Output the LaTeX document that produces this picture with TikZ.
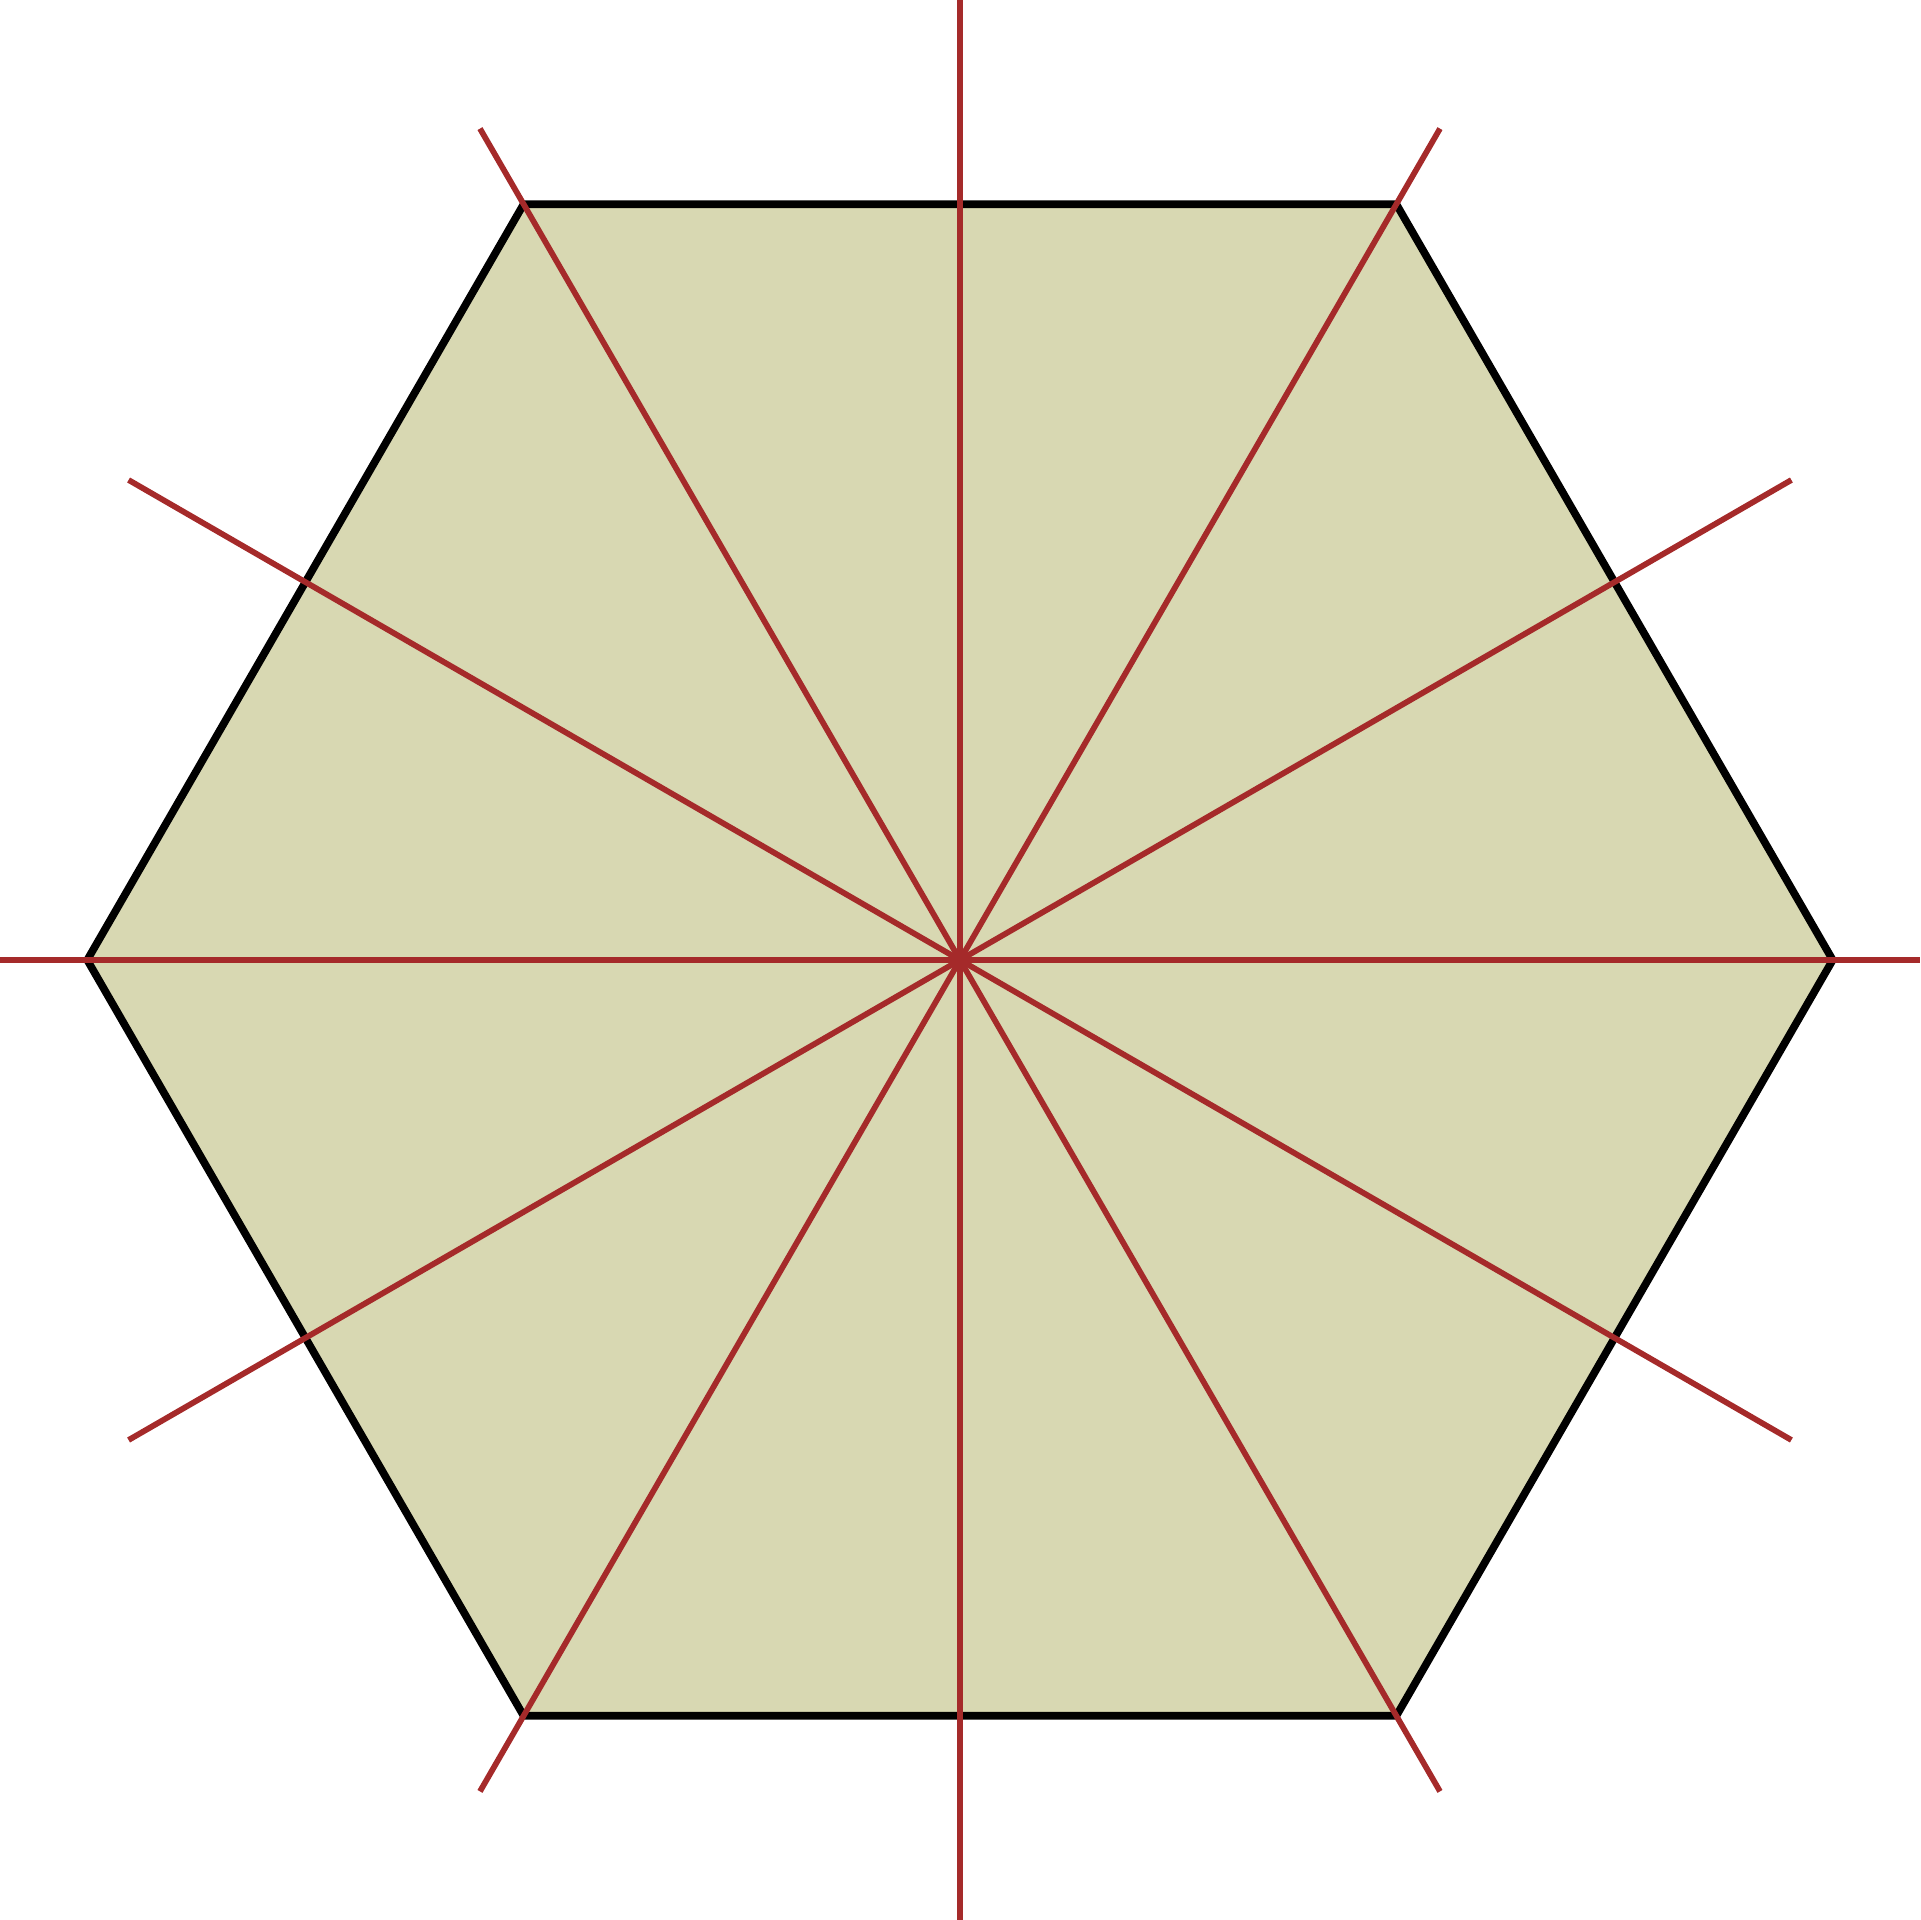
\documentclass[tikz,border=0pt]{standalone}
\definecolor{hexfill}{HTML}{D8D8B2}
\definecolor{axisred}{HTML}{A52A2A}
\tikzset{
  hexagon/.style={draw=black, fill=hexfill, line width=1pt, line join=miter},
  axisline/.style={draw=axisred, line width=0.75pt}
}
\begin{document}
\begin{tikzpicture}
\useasboundingbox (-4.4,-4.4) rectangle (4.4,4.4);
\coordinate (O) at (0,0);
\foreach \i in {0,...,5} {
  \coordinate (v\i) at ({60*\i}:4);
}
\path[hexagon] (v0) -- (v1) -- (v2) -- (v3) -- (v4) -- (v5) -- cycle;
\foreach \a in {0,30,...,330} {
  \coordinate (e\a) at (\a:4.4);
  \draw[axisline] (O) -- (e\a);
}
\end{tikzpicture}
\end{document}
